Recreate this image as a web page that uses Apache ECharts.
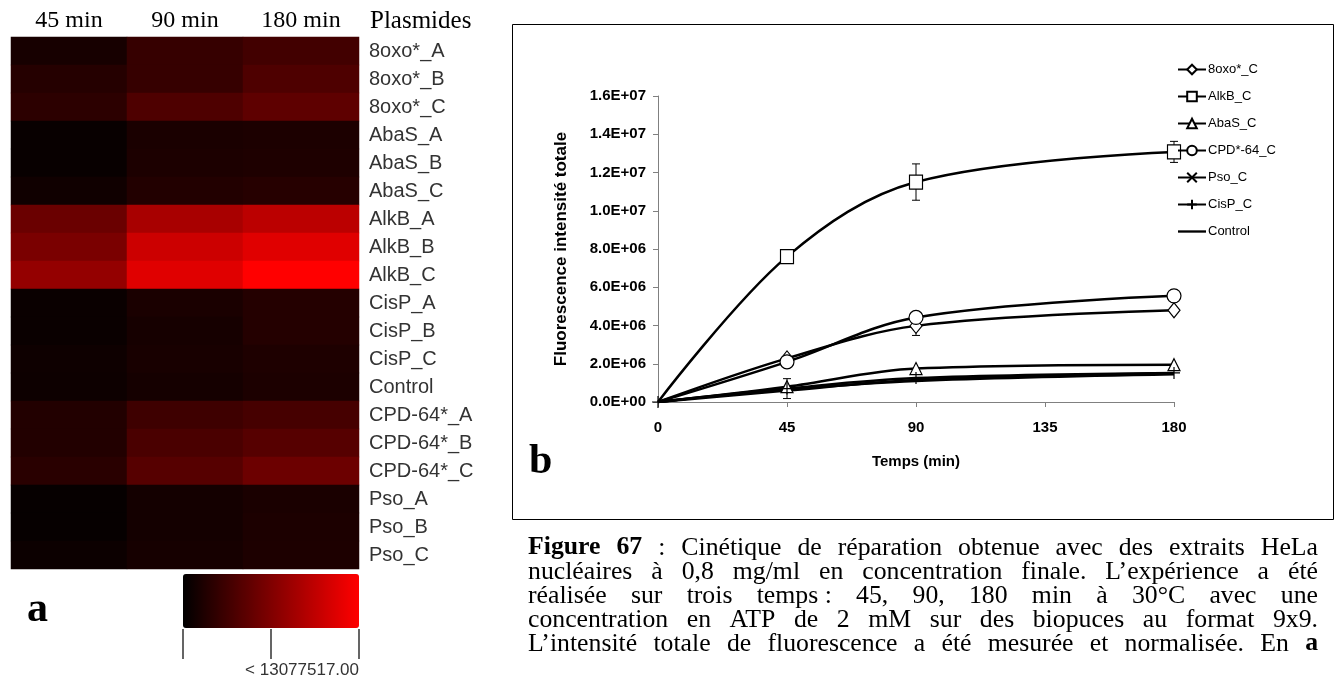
<!DOCTYPE html>
<html>
<head>
<meta charset="utf-8">
<script src="https://cdn.jsdelivr.net/npm/echarts@6/dist/echarts.min.js"></script>
<style>
  html, body { margin: 0; padding: 0; background: #fff; }
  #main { width: 1338px; height: 682px; }
</style>
</head>
<body>
<div id="main"></div>
<script>
// ---- Panel a: heatmap of total fluorescence per plasmid and time ----
const plasmids = ['8oxo*_A', '8oxo*_B', '8oxo*_C', 'AbaS_A', 'AbaS_B', 'AbaS_C',
  'AlkB_A', 'AlkB_B', 'AlkB_C', 'CisP_A', 'CisP_B', 'CisP_C', 'Control',
  'CPD-64*_A', 'CPD-64*_B', 'CPD-64*_C', 'Pso_A', 'Pso_B', 'Pso_C'];
const timeCols = ['45 min', '90 min', '180 min'];
const heat45 = [1.18e6, 1.90e6, 2.28e6, 0.41e6, 0.41e6, 0.80e6, 5.44e6, 6.26e6, 7.60e6,
  0.51e6, 0.51e6, 0.70e6, 0.65e6, 1.74e6, 1.74e6, 2.10e6, 0.31e6, 0.31e6, 0.60e6];
const heat90 = [2.77e6, 2.77e6, 3.98e6, 1.33e6, 1.44e6, 1.75e6, 8.62e6, 10.46e6, 11.50e6,
  1.33e6, 1.13e6, 1.25e6, 1.10e6, 3.18e6, 3.79e6, 4.42e6, 1.03e6, 1.03e6, 1.15e6];
const heat180 = [3.38e6, 4.00e6, 4.80e6, 1.44e6, 1.54e6, 1.95e6, 9.59e6, 11.49e6, 13077517,
  1.85e6, 1.85e6, 1.52e6, 1.45e6, 3.59e6, 4.41e6, 5.55e6, 1.33e6, 1.44e6, 1.50e6];
const heatMax = 13077517;

// ---- Panel b: repair kinetics ----
const times = [0, 45, 90, 180];
const oxoC = [0, 2.28e6, 3.98e6, 4.80e6];
const alkbC = [0, 7.60e6, 11.50e6, 13077517];
const abasC = [0, 0.80e6, 1.75e6, 1.95e6];
const cpdC = [0, 2.10e6, 4.42e6, 5.55e6];
const psoC = [0, 0.60e6, 1.15e6, 1.50e6];
const cispC = [0, 0.70e6, 1.25e6, 1.52e6];
const control = [0, 0.65e6, 1.10e6, 1.45e6];
// standard deviations (same order as times)
const alkbErr = [0, 0, 0.95e6, 0.55e6];
const oxoErr = [0, 0, 0.50e6, 0];
const cpdErr = [0, 0, 0.20e6, 0.30e6];
const cispErr = [0, 0.52e6, 0, 0];

const captionLines = [
  '§Figure §67 : Cinétique de réparation obtenue avec des extraits HeLa',
  'nucléaires à 0,8 mg/ml en concentration finale. L’expérience a été',
  'réalisée sur trois temps\u00a0: 45, 90, 180 min à 30°C avec une',
  'concentration en ATP de 2 mM sur des biopuces au format 9x9.',
  'L’intensité totale de fluorescence a été mesurée et normalisée. En §a'
];

const SANS = '"Liberation Sans", Arial, sans-serif';
const NARROW = '"Liberation Sans Narrow", "Arial Narrow", "Liberation Sans", sans-serif';
const SERIF = '"Liberation Serif", "Times New Roman", serif';

// heatmap cells
const heatData = [];
[heat45, heat90, heat180].forEach((col, j) => {
  col.forEach((v, i) => heatData.push([j, i, v]));
});

function sci(v) {
  if (v === 0) return '0.0E+00';
  const e = Math.floor(Math.log10(v) + 1e-9);
  const m = (v / Math.pow(10, e)).toFixed(1);
  return m + 'E+' + String(e).padStart(2, '0');
}

function pairs(arr, hideFirst, hideAll) {
  return arr.map((v, k) => {
    const item = { value: [times[k], v] };
    if ((k === 0 && hideFirst) || hideAll) item.symbol = 'none';
    return item;
  });
}

const xPath = 'path://M0,0L10,10M10,0L0,10';
const plusPath = 'path://M5,0L5,10M0,5L10,5';

function lineSeries(name, arr, symbol, size, hideFirst, hideAll) {
  return {
    name, type: 'line', xAxisIndex: 1, yAxisIndex: 1,
    data: pairs(arr, hideFirst, hideAll),
    smooth: 0.35,
    symbol, symbolSize: size,
    lineStyle: { color: '#000', width: 2.5 },
    itemStyle: { color: '#fff', borderColor: '#000', borderWidth: 1.2 },
    emphasis: { disabled: true },
    z: 3
  };
}

const errData = [];
[[alkbC, alkbErr], [oxoC, oxoErr], [cpdC, cpdErr], [cispC, cispErr]].forEach(([vals, errs]) => {
  errs.forEach((e, k) => { if (e > 0) errData.push([times[k], vals[k], e]); });
});

// caption laid out word by word, justified between two margins
const CAP_LEFT = 528, CAP_RIGHT = 1318, CAP_TOP = 548, CAP_STEP = 24, CAP_SIZE = 25;
const measureCtx = document.createElement('canvas').getContext('2d');
function textWidth(t, bold) {
  measureCtx.font = (bold ? 'bold ' : '') + CAP_SIZE + 'px ' + SERIF;
  return measureCtx.measureText(t).width;
}
const captionGraphics = [];
captionLines.forEach((line, li) => {
  const words = line.split(' ').map(w => ({
    text: w.replace('§', ''), bold: w.startsWith('§')
  }));
  words.forEach(w => { w.w = textWidth(w.text, w.bold); });
  const total = words.reduce((s, w) => s + w.w, 0);
  const span = CAP_RIGHT - CAP_LEFT;
  const sx = Math.min(1.03, (span - (words.length - 1) * 5) / total);
  const gap = (span - total * sx) / (words.length - 1);
  let x = CAP_LEFT;
  words.forEach(w => {
    captionGraphics.push({
      type: 'text', x: x, y: CAP_TOP + li * CAP_STEP, scaleX: sx,
      style: {
        text: w.text, fill: '#000',
        fontSize: CAP_SIZE, fontFamily: SERIF, fontWeight: w.bold ? 'bold' : 'normal',
        textAlign: 'left', textVerticalAlign: 'middle', align: 'left', verticalAlign: 'middle'
      }
    });
    x += w.w * sx + gap;
  });
});

const chart = echarts.init(document.getElementById('main'), null, { renderer: 'canvas' });

chart.setOption({
  backgroundColor: '#fff',
  animation: false,
  grid: [
    { left: 11, top: 37, width: 348, height: 532 },
    { left: 658, top: 96, width: 516, height: 306 },
    { left: 183, top: 628, width: 176, height: 1 }
  ],
  xAxis: [
    {
      gridIndex: 0, type: 'category', data: timeCols, position: 'top',
      axisLine: { show: false }, axisTick: { show: false },
      axisLabel: { fontFamily: SERIF, fontSize: 24, color: '#000', margin: 4 }
    },
    {
      gridIndex: 1, type: 'value', min: 0, max: 180, interval: 45,
      axisLine: { show: true, lineStyle: { color: '#808080', width: 1 } },
      axisTick: { show: true, length: 5, lineStyle: { color: '#808080' } },
      splitLine: { show: false },
      axisLabel: { fontFamily: NARROW, fontWeight: 'bold', fontSize: 15, color: '#000', margin: 18 },
      name: 'Temps (min)', nameLocation: 'middle', nameGap: 52,
      nameTextStyle: { fontFamily: NARROW, fontWeight: 'bold', fontSize: 15, color: '#000' }
    },
    {
      gridIndex: 2, type: 'value', min: 0, max: heatMax, interval: heatMax / 2,
      axisLine: { show: false },
      axisTick: { show: true, length: 30, lineStyle: { color: '#333', width: 1.5 } },
      splitLine: { show: false },
      axisLabel: {
        margin: 33, fontFamily: SANS, fontSize: 17, color: '#333', align: 'right',
        formatter: v => (v === heatMax ? '< ' + heatMax.toFixed(2) : '')
      }
    }
  ],
  yAxis: [
    {
      gridIndex: 0, type: 'category', data: plasmids, inverse: true, position: 'right',
      axisLine: { show: false }, axisTick: { show: false },
      axisLabel: { fontFamily: SANS, fontSize: 20, color: '#333', margin: 10 }
    },
    {
      gridIndex: 1, type: 'value', min: 0, max: 1.6e7, interval: 2e6,
      axisLine: { show: true, lineStyle: { color: '#808080', width: 1 } },
      axisTick: { show: true, length: 5, lineStyle: { color: '#808080' } },
      splitLine: { show: false },
      axisLabel: { fontFamily: NARROW, fontWeight: 'bold', fontSize: 15, color: '#000', margin: 12, formatter: sci },
      name: 'Fluorescence intensité totale', nameLocation: 'middle', nameGap: 88,
      nameTextStyle: { fontFamily: SANS, fontWeight: 'bold', fontSize: 17, color: '#000' }
    },
    { gridIndex: 2, type: 'value', show: false }
  ],
  visualMap: {
    type: 'continuous', seriesIndex: 0, min: 0, max: heatMax,
    orient: 'horizontal', left: 183, top: 574, padding: 0,
    itemWidth: 54, itemHeight: 176, calculable: false, hoverLink: false,
    inRange: { color: ['#000000', '#ff0000'] }
  },
  legend: {
    orient: 'vertical', left: 1172, top: 58, itemGap: 14, itemWidth: 28, itemHeight: 12,
    data: ['8oxo*_C', 'AlkB_C', 'AbaS_C', 'CPD*-64_C', 'Pso_C', 'CisP_C',
      { name: 'Control', icon: 'path://M0,0L30,0L30,2.5L0,2.5Z', itemStyle: { color: '#000', borderWidth: 0 } }],
    textStyle: { fontFamily: NARROW, fontSize: 13, color: '#000', padding: [0, 0, 0, -3] },
    selectedMode: false
  },
  series: [
    {
      type: 'heatmap', xAxisIndex: 0, yAxisIndex: 0, data: heatData,
      emphasis: { disabled: true }, itemStyle: { borderWidth: 0 }
    },
    lineSeries('8oxo*_C', oxoC, 'diamond', [12, 15], true),
    lineSeries('AlkB_C', alkbC, 'rect', [13, 14], true),
    lineSeries('AbaS_C', abasC, 'triangle', 12, true),
    lineSeries('CPD*-64_C', cpdC, 'circle', 14, true),
    lineSeries('Pso_C', psoC, xPath, 10, true, true),
    lineSeries('CisP_C', cispC, plusPath, 12, false),
    lineSeries('Control', control, 'none', 0, true, true),
    {
      type: 'custom', xAxisIndex: 1, yAxisIndex: 1, data: errData, z: 2,
      encode: { x: 0, y: 1 },
      renderItem(params, api) {
        const x = api.value(0), y = api.value(1), e = api.value(2);
        const top = api.coord([x, y + e]);
        const bot = api.coord([x, y - e]);
        const cap = 4;
        const st = { stroke: '#000', lineWidth: 1 };
        return {
          type: 'group', children: [
            { type: 'line', shape: { x1: top[0], y1: top[1], x2: bot[0], y2: bot[1] }, style: st },
            { type: 'line', shape: { x1: top[0] - cap, y1: top[1], x2: top[0] + cap, y2: top[1] }, style: st },
            { type: 'line', shape: { x1: bot[0] - cap, y1: bot[1], x2: bot[0] + cap, y2: bot[1] }, style: st }
          ]
        };
      }
    }
  ],
  graphic: [
    {
      type: 'rect', shape: { x: 512.5, y: 24.5, width: 821, height: 495 },
      style: { fill: 'none', stroke: '#000', lineWidth: 1 }, silent: true
    },
    {
      type: 'text', x: 370, y: 21,
      style: { text: 'Plasmides', fill: '#000', fontSize: 25, fontFamily: SERIF,
        textAlign: 'left', textVerticalAlign: 'middle', align: 'left', verticalAlign: 'middle' }
    },
    {
      type: 'text', x: 27, y: 610,
      style: { text: 'a', fill: '#000', fontSize: 42, fontWeight: 'bold', fontFamily: SERIF,
        textAlign: 'left', textVerticalAlign: 'middle', align: 'left', verticalAlign: 'middle' }
    },
    {
      type: 'text', x: 529, y: 462,
      style: { text: 'b', fill: '#000', fontSize: 42, fontWeight: 'bold', fontFamily: SERIF,
        textAlign: 'left', textVerticalAlign: 'middle', align: 'left', verticalAlign: 'middle' }
    }
  ].concat(captionGraphics)
});
</script>
</body>
</html>
